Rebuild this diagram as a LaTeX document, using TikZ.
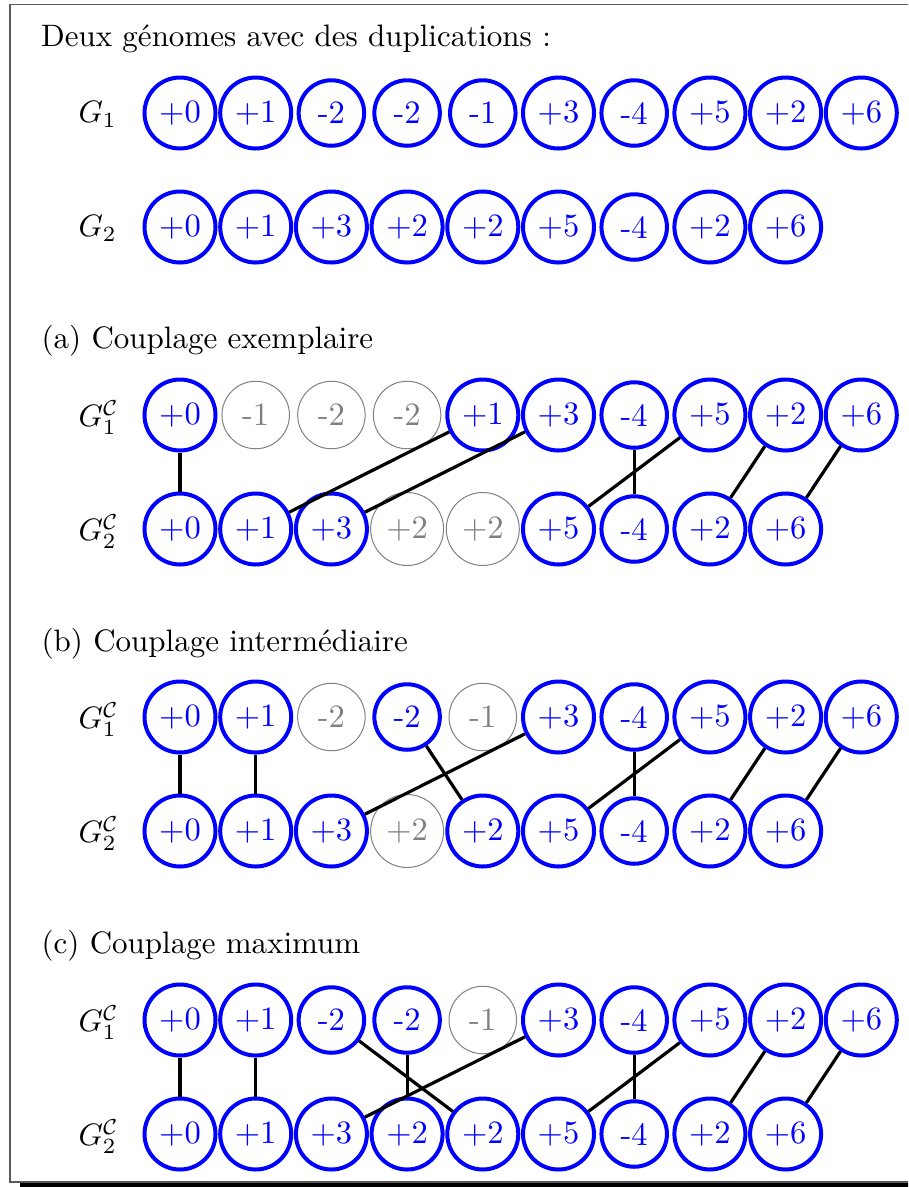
\documentclass[tikz,border=0pt]{standalone}
\newdimen\pxu \pxu=0.3226pt
\begin{document}
\begin{tikzpicture}[x=0.3226pt,y=-0.3226pt,
  node font=\fontsize{10.5pt}{12.6pt}\selectfont,
  plusB/.style={circle,draw=blue,text=blue,line width=4\pxu,minimum size=71\pxu,inner sep=0pt},
  minusB/.style={circle,draw=blue,text=blue,line width=4\pxu,minimum size=65.5\pxu,inner sep=0pt},
  plusG/.style={circle,draw=gray,text=gray,line width=1\pxu,minimum size=73\pxu,inner sep=0pt},
  minusG/.style={circle,draw=gray,text=gray,line width=1\pxu,minimum size=67.5\pxu,inner sep=0pt},
  link/.style={line width=3.2\pxu,black},
  title/.style={anchor=base west,inner sep=0pt,node font=\normalsize},
  glabel/.style={anchor=base west,inner sep=0pt,node font=\normalsize}]
\useasboundingbox (0,0) rectangle (908,1187);
\clip (0,0) rectangle (908,1187);
% frame and shadow
\fill[black] (20,1182.8) rectangle (930,1195);
\draw[gray!70!black,line width=1.2\pxu] (10,4.5) rectangle (940,1182);

% titles
\node[title] (t0) at (40.5,46.7) {Deux génomes avec des duplications :};
\node[title] (ta) at (41,348.3) {(a) Couplage exemplaire};
\node[title] (tb) at (41,651.7) {(b) Couplage intermédiaire};
\node[title] (tc) at (41,953.7) {(c) Couplage maximum};

% labels
\node[glabel] (l01) at (78,122.7) {$G_1$};
\node[glabel] (l02) at (78,236.5) {$G_2$};
\node[glabel] (la1) at (78,426.7) {$G_1^{\mathcal{C}}$};
\node[glabel] (la2) at (78,540.5) {$G_2^{\mathcal{C}}$};
\node[glabel] (lb1) at (78,728.7) {$G_1^{\mathcal{C}}$};
\node[glabel] (lb2) at (78,842.5) {$G_2^{\mathcal{C}}$};
\node[glabel] (lc1) at (78,1031.7) {$G_1^{\mathcal{C}}$};
\node[glabel] (lc2) at (78,1145.5) {$G_2^{\mathcal{C}}$};

% top genomes
\foreach \lab/\st [count=\i from 0] in {+0/plusB,+1/plusB,-2/minusB,-2/minusB,-1/minusB,+3/plusB,-4/minusB,+5/plusB,+2/plusB,+6/plusB}
  \node[\st] (o1-\i) at ({180+75.7*\i},113) {\lab};
\foreach \lab/\st [count=\i from 0] in {+0/plusB,+1/plusB,+3/plusB,+2/plusB,+2/plusB,+5/plusB,-4/minusB,+2/plusB,+6/plusB}
  \node[\st] (o2-\i) at ({180+75.7*\i},227) {\lab};

% (a)
\foreach \lab/\st [count=\i from 0] in {+0/plusB,-1/minusG,-2/minusG,-2/minusG,+1/plusB,+3/plusB,-4/minusB,+5/plusB,+2/plusB,+6/plusB}
  \node[\st] (a1-\i) at ({180+75.7*\i},415) {\lab};
\foreach \lab/\st [count=\i from 0] in {+0/plusB,+1/plusB,+3/plusB,+2/plusG,+2/plusG,+5/plusB,-4/minusB,+2/plusB,+6/plusB}
  \node[\st] (a2-\i) at ({180+75.7*\i},529) {\lab};
\foreach \u/\v in {0/0,4/1,5/2,6/6,7/5,8/7,9/8}
  \draw[link] (a1-\u) -- (a2-\v);

% (b)
\foreach \lab/\st [count=\i from 0] in {+0/plusB,+1/plusB,-2/minusG,-2/minusB,-1/minusG,+3/plusB,-4/minusB,+5/plusB,+2/plusB,+6/plusB}
  \node[\st] (b1-\i) at ({180+75.7*\i},717) {\lab};
\foreach \lab/\st [count=\i from 0] in {+0/plusB,+1/plusB,+3/plusB,+2/plusG,+2/plusB,+5/plusB,-4/minusB,+2/plusB,+6/plusB}
  \node[\st] (b2-\i) at ({180+75.7*\i},831) {\lab};
\foreach \u/\v in {0/0,1/1,3/4,5/2,6/6,7/5,8/7,9/8}
  \draw[link] (b1-\u) -- (b2-\v);

% (c)
\foreach \lab/\st [count=\i from 0] in {+0/plusB,+1/plusB,-2/minusB,-2/minusB,-1/minusG,+3/plusB,-4/minusB,+5/plusB,+2/plusB,+6/plusB}
  \node[\st] (c1-\i) at ({180+75.7*\i},1020) {\lab};
\foreach \lab/\st [count=\i from 0] in {+0/plusB,+1/plusB,+3/plusB,+2/plusB,+2/plusB,+5/plusB,-4/minusB,+2/plusB,+6/plusB}
  \node[\st] (c2-\i) at ({180+75.7*\i},1134) {\lab};
\foreach \u/\v in {0/0,1/1,2/4,3/3,5/2,6/6,7/5,8/7,9/8}
  \draw[link] (c1-\u) -- (c2-\v);
\end{tikzpicture}
\end{document}
